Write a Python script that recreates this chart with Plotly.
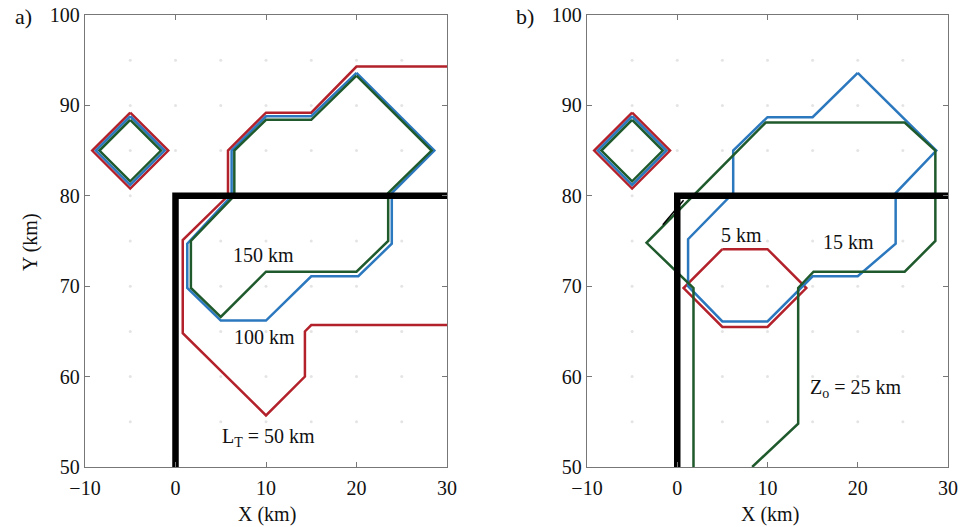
import plotly.graph_objects as go

# ---------------- data ----------------
x_ticks = [-10, 0, 10, 20, 30]
x_ticktext = ["\u221210", "0", "10", "20", "30"]
y_ticks = [50, 60, 70, 80, 90, 100]
dot_x = [-5, 0, 5, 10, 15, 20, 25]
dot_y = [55, 60, 65, 70, 75, 80, 85, 90, 95]

# diamond source (both panels)
dia_cx, dia_cy = -5, 85
dia_half_red, dia_half_blue, dia_half_green = 4.2, 3.8, 3.4

# black boundary
blk_x = [0, 0, 30]
blk_y = [50, 80, 80]

# panel a
a_red_x = [30, 20, 15, 10, 5.8, 5.8, 0.8, 0.8, 10, 14.3, 14.3, 15, 30]
a_red_y = [94.3, 94.3, 89.2, 89.2, 85, 80, 75.1, 64.8, 55.7, 60, 65, 65.7, 65.7]
a_blue_x = [20, 28.6, 23.9, 23.9, 20.2, 15, 10, 5, 1.3, 1.3, 6.2, 6.2, 10, 15, 20]
a_blue_y = [93.6, 85, 80.3, 74.7, 71.1, 71.1, 66.2, 66.2, 69.8, 74.7, 80, 85, 88.8, 88.8, 93.6]
a_green_x = [20, 28.3, 23.5, 23.5, 20, 10, 5, 1.7, 1.7, 6.5, 6.5, 10, 15, 20]
a_green_y = [93.3, 85, 80.3, 75, 71.6, 71.6, 66.6, 69.8, 75, 80, 85, 88.4, 88.4, 93.3]

# panel b
b_red_x = [5, 10, 14.3, 10, 5, 0.7, 5]
b_red_y = [74.1, 74.1, 69.8, 65.5, 65.5, 69.8, 74.1]
b_blue_x = [20, 28.7, 24.2, 24.2, 20, 15, 10, 5, 1.2, 1.2, 6.2, 6.2, 10, 15, 20]
b_blue_y = [93.6, 85, 80.3, 74.7, 71.1, 71.1, 66.1, 66.1, 70, 75.2, 80.3, 85, 88.7, 88.7, 93.6]
b_green_x = [1.8, 1.8, -3.4, 9.8, 25.2, 28.6, 28.6, 25.2, 15.1, 13.4, 13.4, 8.3]
b_green_y = [50, 69.8, 74.8, 88.1, 88.1, 85, 75, 71.6, 71.6, 69.8, 54.8, 50]
b_thin_x = [-1.6, 0.7]
b_thin_y = [76.8, 79.5]

# labels
a_labels = [("150 km", 9.7, 73.4), ("100 km", 9.8, 64.4), ("L<sub>T</sub> = 50 km", 10.3, 53.3)]
b_labels = [("5 km", 7.1, 75.7), ("15 km", 19.0, 74.9), ("Z<sub>o</sub> = 25 km", 19.7, 58.7)]

RED = "#b3212b"
BLUE = "#2b78be"
GREEN = "#1f5a2c"
FONT = "Liberation Serif"

W, H = 967, 527


def px(p):
    return p / W


def py(p):
    return 1 - p / H


fig = go.Figure()


def diamond(h):
    xs = [dia_cx, dia_cx + h, dia_cx, dia_cx - h, dia_cx]
    ys = [dia_cy + h, dia_cy, dia_cy - h, dia_cy, dia_cy + h]
    return xs, ys


for ax, ay, red, blue, green in [
    ("x", "y", (a_red_x, a_red_y), (a_blue_x, a_blue_y), (a_green_x, a_green_y)),
    ("x2", "y2", (b_red_x, b_red_y), (b_blue_x, b_blue_y), (b_green_x, b_green_y)),
]:
    gx = [x for x in dot_x for _ in dot_y]
    gy = [y for _ in dot_x for y in dot_y]
    fig.add_trace(go.Scatter(x=gx, y=gy, mode="markers", xaxis=ax, yaxis=ay,
                             marker=dict(size=3, color="#e4e4e4"), hoverinfo="skip"))
    for h, c in [(dia_half_red, RED), (dia_half_blue, BLUE), (dia_half_green, GREEN)]:
        dx, dy = diamond(h)
        fig.add_trace(go.Scatter(x=dx, y=dy, mode="lines", xaxis=ax, yaxis=ay,
                                 line=dict(color=c, width=2.5)))
    fig.add_trace(go.Scatter(x=red[0], y=red[1], mode="lines", xaxis=ax, yaxis=ay,
                             line=dict(color=RED, width=2.5)))
    fig.add_trace(go.Scatter(x=blue[0], y=blue[1], mode="lines", xaxis=ax, yaxis=ay,
                             line=dict(color=BLUE, width=2.5)))
    fig.add_trace(go.Scatter(x=green[0], y=green[1], mode="lines", xaxis=ax, yaxis=ay,
                             line=dict(color=GREEN, width=2.5)))
    fig.add_trace(go.Scatter(x=blk_x, y=blk_y, mode="lines", xaxis=ax, yaxis=ay,
                             line=dict(color="black", width=6.5)))

fig.add_trace(go.Scatter(x=b_thin_x, y=b_thin_y, mode="lines", xaxis="x2", yaxis="y2",
                         line=dict(color="black", width=1.5)))

tfont = dict(family=FONT, size=20, color="#111")
annotations = []
for txt, x, y in a_labels:
    annotations.append(dict(text=txt, x=x, y=y, xref="x", yref="y", showarrow=False, font=tfont))
for txt, x, y in b_labels:
    annotations.append(dict(text=txt, x=x, y=y, xref="x2", yref="y2", showarrow=False, font=tfont))
paper = dict(xref="paper", yref="paper", showarrow=False, xanchor="center", yanchor="middle")
annotations += [
    dict(text="a)", x=px(23), y=py(17), font=dict(family=FONT, size=22, color="#111"), **paper),
    dict(text="b)", x=px(525), y=py(17), font=dict(family=FONT, size=22, color="#111"), **paper),
    dict(text="X (km)", x=px(267), y=py(514), font=tfont, **paper),
    dict(text="X (km)", x=px(770), y=py(514), font=tfont, **paper),
    dict(text="Y (km)", x=px(30), y=py(242), textangle=-90, font=tfont, **paper),
]

ydom = [py(467), py(15)]
axis_common = dict(showgrid=False, zeroline=False, showline=True, linecolor="#777",
                   linewidth=1.3, mirror="ticks", ticks="inside", ticklen=5,
                   tickcolor="#777", tickfont=dict(family=FONT, size=20, color="#111"),
                   ticklabeloverflow="allow", automargin=False, fixedrange=True)

fig.update_layout(
    width=W, height=H,
    margin=dict(l=0, r=0, t=0, b=0),
    paper_bgcolor="white", plot_bgcolor="white",
    showlegend=False,
    xaxis=dict(domain=[px(85), px(447)], range=[-10, 30], tickvals=x_ticks,
               ticktext=x_ticktext, anchor="y", ticklabelstandoff=3, **axis_common),
    yaxis=dict(domain=ydom, range=[50, 100], tickvals=y_ticks, anchor="x", **axis_common),
    xaxis2=dict(domain=[px(587), px(948)], range=[-10, 30], tickvals=x_ticks,
                ticktext=x_ticktext, anchor="y2", ticklabelstandoff=3, **axis_common),
    yaxis2=dict(domain=ydom, range=[50, 100], tickvals=y_ticks, anchor="x2", **axis_common),
    annotations=annotations,
)

fig.write_html("out.html", config={"displayModeBar": False},
               post_script="document.body.style.margin='0';")
